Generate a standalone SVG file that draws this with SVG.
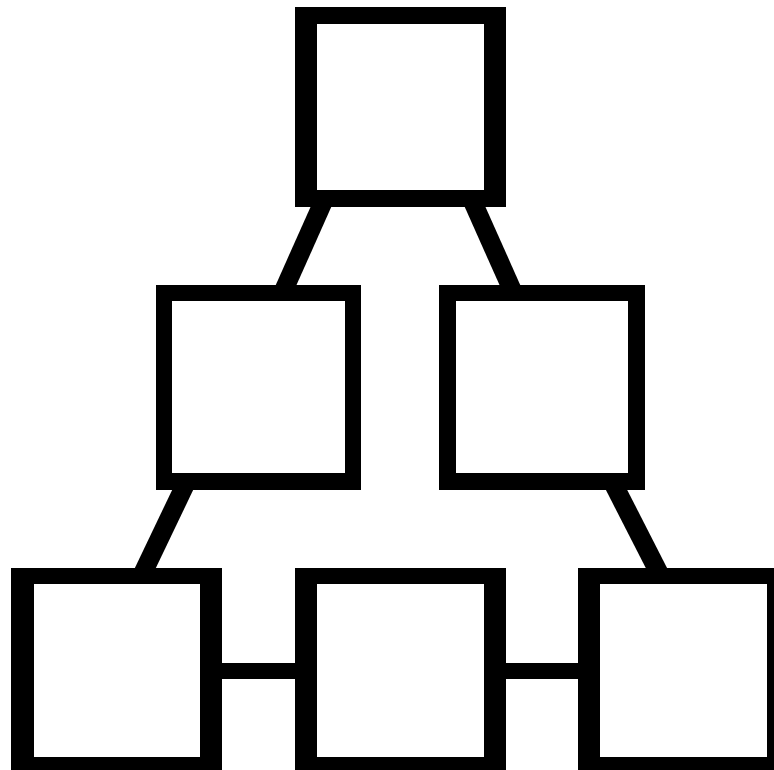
<svg xmlns="http://www.w3.org/2000/svg" width="774" height="770" viewBox="0 0 774 770">
  <style>
    .frame { fill: #000000; }
    .face { fill: #ffffff; }
    .link { stroke: #000000; stroke-width: 19; stroke-linecap: butt; fill: none; }
    .hlink { stroke: #000000; stroke-width: 16; fill: none; }
  </style>
  <rect x="0" y="0" width="774" height="770" fill="#ffffff"/>
  <g id="connectors">
    <line class="link" x1="324" y1="200" x2="283" y2="292"/>
    <line class="link" x1="472" y1="200" x2="513" y2="292"/>
    <line class="link" x1="186" y1="483" x2="142" y2="575"/>
    <line class="link" x1="613" y1="483" x2="660" y2="575"/>
    <line class="hlink" x1="215" y1="671" x2="302" y2="671"/>
    <line class="hlink" x1="499" y1="671" x2="585" y2="671"/>
  </g>
  <g id="node-top">
    <rect class="frame" x="295" y="7" width="211" height="200"/>
    <rect class="face" x="317" y="24" width="167" height="166"/>
  </g>
  <g id="node-mid-left">
    <rect class="frame" x="156" y="285" width="205" height="205"/>
    <rect class="face" x="172" y="301" width="173" height="172"/>
  </g>
  <g id="node-mid-right">
    <rect class="frame" x="439" y="285" width="206" height="205"/>
    <rect class="face" x="456" y="301" width="172" height="172"/>
  </g>
  <g id="node-bottom-left">
    <rect class="frame" x="11" y="568" width="211" height="210"/>
    <rect class="face" x="34" y="584" width="166" height="173"/>
  </g>
  <g id="node-bottom-mid">
    <rect class="frame" x="295" y="568" width="211" height="210"/>
    <rect class="face" x="317" y="584" width="167" height="173"/>
  </g>
  <g id="node-bottom-right">
    <rect class="frame" x="578" y="568" width="196" height="210"/>
    <rect class="face" x="600" y="584" width="167" height="173"/>
  </g>
</svg>
